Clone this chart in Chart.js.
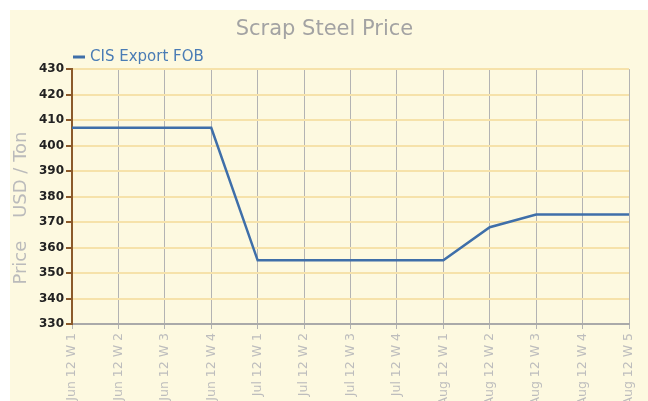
<!DOCTYPE html>
<html>
<head>
<meta charset="utf-8">
<script src="https://cdn.jsdelivr.net/npm/chart.js@4"></script>
<style>
  body { margin: 0; background: #fff; }
  #wrap { position: absolute; left: 10px; top: 10px; width: 638px; height: 391px; background: #fdf9e0; }
</style>
</head>
<body>
<div id="wrap"><canvas id="grafico" width="638" height="391"></canvas></div>
<script>
const semanas = ["Jun 12 W 1", "Jun 12 W 2", "Jun 12 W 3", "Jun 12 W 4",
                 "Jul 12 W 1", "Jul 12 W 2", "Jul 12 W 3", "Jul 12 W 4",
                 "Aug 12 W 1", "Aug 12 W 2", "Aug 12 W 3", "Aug 12 W 4", "Aug 12 W 5"];
const precios = [407, 407, 407, 407, 355, 355, 355, 355, 355, 368, 373, 373, 373];
const serie = "CIS Export FOB";
const azul = "#3f6fa9";

// leyenda dibujada a mano, pegada al eje
const leyenda = {
  id: "leyenda",
  afterDraw(chart) {
    const ctx = chart.ctx;
    const ds = chart.data.datasets[0];
    ctx.save();
    ctx.strokeStyle = ds.borderColor;
    ctx.lineWidth = 3;
    ctx.beginPath();
    ctx.moveTo(63, 47);
    ctx.lineTo(75, 47);
    ctx.stroke();
    ctx.fillStyle = "#4a7cb5";
    ctx.font = "15px 'DejaVu Sans'";
    ctx.textBaseline = "middle";
    ctx.fillText(ds.label, 80, 47);
    ctx.restore();
  }
};

const grafico = new Chart(document.querySelector("#grafico"), {
  type: "line",
  data: {
    labels: semanas,
    datasets: [{ label: serie, data: precios, borderColor: azul, borderWidth: 2.5, pointRadius: 0, tension: 0 }]
  },
  options: {
    responsive: false,
    animation: false,
    layout: { padding: { left: 0, right: 9, top: 0, bottom: 0 } },
    plugins: {
      legend: { display: false },
      tooltip: { enabled: false },
      title: {
        display: true,
        text: "Scrap Steel Price",
        color: "#a3a3a3",
        font: { family: "'DejaVu Sans'", size: 21, weight: "normal" },
        padding: { top: 7, bottom: 27 }
      }
    },
    scales: {
      x: {
        offset: false,
        grid: { color: "#b3b3b3", lineWidth: 1, tickColor: "#b3b3b3", tickLength: 5 },
        border: { color: "#aaaaaa", width: 2 },
        ticks: { minRotation: 90, maxRotation: 90, autoSkip: false, color: "#bdbdbd", padding: 4,
                 font: { family: "'DejaVu Sans'", size: 12.5 } },
        afterFit: (scale) => { scale.height = 77; }
      },
      y: {
        min: 330,
        max: 430,
        ticks: { stepSize: 10, color: "#222222", padding: 2, font: { family: "'DejaVu Sans'", size: 12, weight: "bold" } },
        grid: { color: "#f6e2aa", lineWidth: 2, tickColor: "#8b5a2b", tickLength: 6 },
        border: { color: "#8b5a2b", width: 2 },
        title: {
          display: true,
          text: "Price    USD / Ton    ",
          color: "#bbbbbb",
          font: { family: "'DejaVu Sans'", size: 18 },
          padding: { top: 1, bottom: 0 }
        },
        afterFit: (scale) => { scale.width = 62; }
      }
    }
  },
  plugins: [leyenda]
});
</script>
</body>
</html>
